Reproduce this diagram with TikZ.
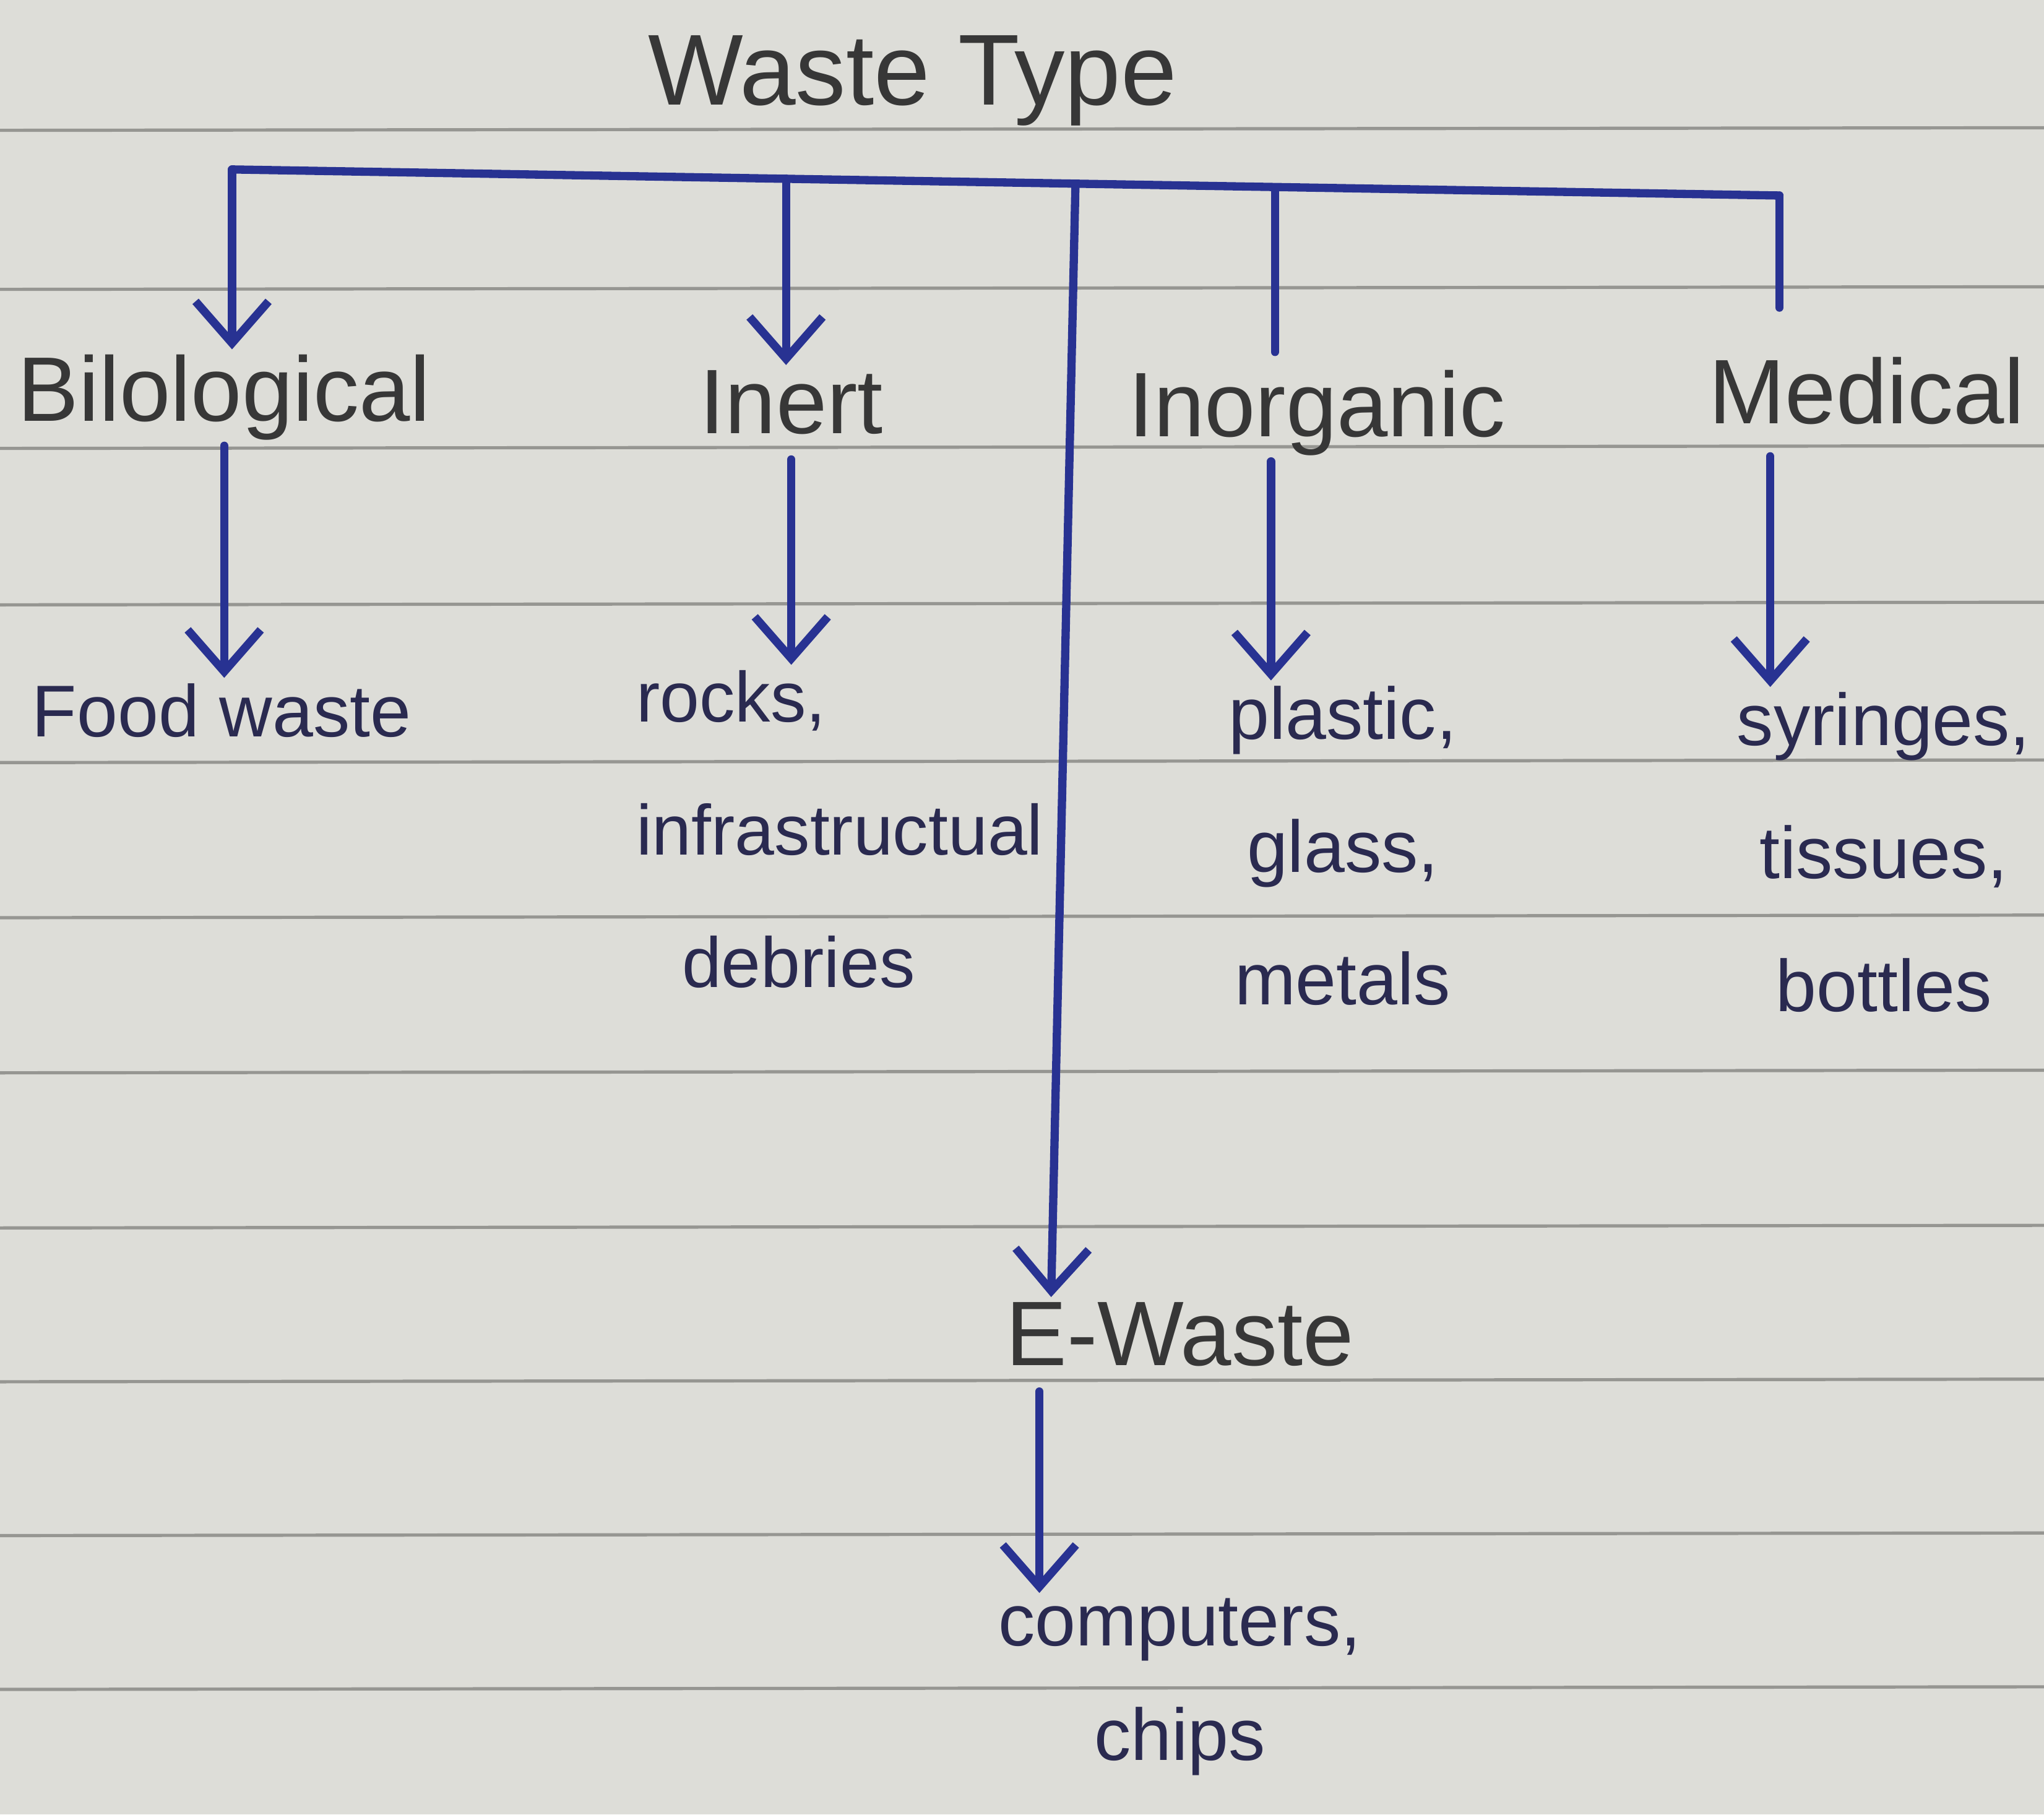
\documentclass[tikz,border=0pt]{standalone}
\usepackage{fontspec}
\setmainfont{Liberation Sans}
\usetikzlibrary{arrows.meta,positioning}
\definecolor{paper}{RGB}{221,221,216}
\definecolor{rule}{RGB}{150,150,146}
\definecolor{ink}{RGB}{40,50,146}
\definecolor{pencil}{RGB}{55,55,55}
\definecolor{leafink}{RGB}{42,42,80}

\begin{document}
\begin{tikzpicture}[line cap=round,
			ruling/.style={rule, line width=0.7pt},
			wire/.style={ink, line width=1.8pt},
			arr/.style={wire, -{Straight Barb[length=3.2mm,width=5.6mm]}},
			label/.style={inner sep=1pt, text=pencil, font=\fontsize{20}{24}\selectfont},
			leaf/.style={inner sep=1pt, text=leafink, font=\fontsize{16}{29}\selectfont, align=center}]
			\fill[paper] (0,0) rectangle (15.68,-13.92);
			\useasboundingbox (0,0) rectangle (15.68,-13.92);
			\foreach \y in {1.00,2.22,3.44,4.64,5.85,7.04,8.23,9.42,10.60,11.78,12.96}
				\draw[ruling] (0,-\y) -- (15.68,-\y+0.02);
			\node [label, font=\fontsize{22}{26}\selectfont] (type) at (7.0,-0.62) {Waste Type};
			\coordinate (b1) at (1.78,-1.30);
			\coordinate (b2) at (6.03,-1.37);
			\coordinate (b3) at (8.25,-1.41);
			\coordinate (b4) at (9.78,-1.44);
			\coordinate (b5) at (13.65,-1.50);
			\node [label, anchor=north] (bio) at (1.72,-2.68) {Bilological};
			\node [label, anchor=north] (inert) at (6.07,-2.80) {Inert};
			\node [label, anchor=north] (inorg) at (10.10,-2.80) {Inorganic};
			\node [label, anchor=north] (med) at (14.32,-2.70) {Medical};
			\node [leaf, anchor=north] (food) at (1.70,-5.20) {Food waste};
			\node [leaf, anchor=north west, align=left, font=\fontsize{15.5}{29}\selectfont] (rocks) at (4.84,-5.10) {rocks,\\infrastructual\\\hspace{3.5mm}debries};
			\node [leaf, anchor=north] (plastic) at (10.30,-5.22) {plastic,\\glass,\\metals};
			\node [leaf, anchor=north] (syr) at (14.45,-5.27) {syringes,\\tissues,\\bottles};
			\node [label, anchor=north] (ewaste) at (9.05,-9.95) {E-Waste};
			\node [leaf, anchor=north, font=\fontsize{16}{25}\selectfont] (comp) at (9.05,-12.22) {computers,\\chips};
			\draw[wire, line join=round] (b1) -- (b5);
			\draw[arr] (b1) -- (b1 |- bio.north);
			\draw[arr] (b2) -- (b2 |- inert.north);
			\draw[arr] (b3) -- ([xshift=3.9mm]ewaste.north west);
			\draw[wire, shorten >=1mm] (b4) -- (b4 |- inorg.north);
			\draw[wire, shorten >=3.4mm] (b5) -- (b5 |- med.north);
			\draw[arr] (bio.south) -- (bio.south |- food.north);
			\draw[arr, shorten <=1.5mm] (inert.south) -- (inert.south |- rocks.north);
			\draw[arr] ([xshift=-3.5mm]inorg.south) -- ([xshift=-3.5mm]inorg.south |- plastic.north);
			\draw[arr, shorten <=2mm] ([xshift=-7.4mm]med.south) -- ([xshift=-7.4mm]med.south |- syr.north);
			\draw[arr, shorten <=1.5mm] ([xshift=3mm]ewaste.south west) -- ([xshift=3mm]ewaste.south west |- comp.north);
		\end{tikzpicture}
\end{document}
